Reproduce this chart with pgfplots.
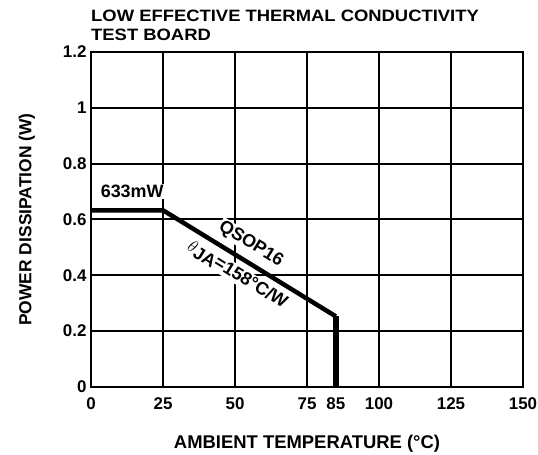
\documentclass[border=0pt]{standalone}
\usepackage{fontspec}
\setmainfont{Liberation Sans}
\usepackage{pgfplots}
\pgfplotsset{compat=1.18}
\begin{document}
\begin{tikzpicture}[x=1bp,y=1bp]
\path[use as bounding box] (0,0) rectangle (538,455);
\begin{axis}[
  at={(91bp,68bp)}, anchor=south west,
  scale only axis, width=432bp, height=335bp,
  xmin=0, xmax=150, ymin=0, ymax=1.2,
  xtick={0,25,50,75,100,125,150},
  extra x ticks={85},
  extra x tick style={grid=none},
  ytick={0,0.2,0.4,0.6,0.8,1,1.2},
  grid=major,
  major grid style={black, line width=2bp},
  axis line style={black, line width=2.4bp},
  tick style={draw=none},
  /pgf/number format/assume math mode=true,
  ticklabel style={font=\fontsize{17}{18}\selectfont\bfseries},
  xticklabel style={yshift=-7bp},
  yticklabel style={xshift=-1bp},
  xlabel={AMBIENT TEMPERATURE (°C)},
  ylabel={POWER DISSIPATION (W)},
  xlabel style={font=\fontsize{18.5}{19}\selectfont\bfseries, yshift=-19bp},
  ylabel style={font=\fontsize{17.5}{19}\selectfont\bfseries, yshift=21bp},
  clip=false,
]
\node[font=\fontsize{18}{18}\selectfont\bfseries, fill=white, inner sep=1bp] at (axis cs:14.3,0.70) {633mW};
\node[font=\fontsize{18}{18}\selectfont\bfseries, fill=white, inner sep=1bp, rotate=-31.7] at (axis cs:55.5,0.512) {QSOP16};
\node[font=\fontsize{18}{18}\selectfont\bfseries, fill=white, inner sep=1bp, rotate=-31.7] at (axis cs:50.8,0.402) {$\theta$\raisebox{-3bp}{JA}=158°C/W};
\addplot[black, line width=4.5bp, line join=miter] coordinates {(0,0.633) (25,0.633) (85,0.253)};
\addplot[black, line width=6bp] coordinates {(85,0.253) (85,0)};
\end{axis}
\node[anchor=north west, align=left, font=\fontsize{16.5}{18.5}\selectfont\bfseries\addfontfeatures{FakeStretch=1.12}, inner sep=0pt] at (91,445) {LOW EFFECTIVE THERMAL CONDUCTIVITY\\TEST BOARD};
\end{tikzpicture}
\end{document}
